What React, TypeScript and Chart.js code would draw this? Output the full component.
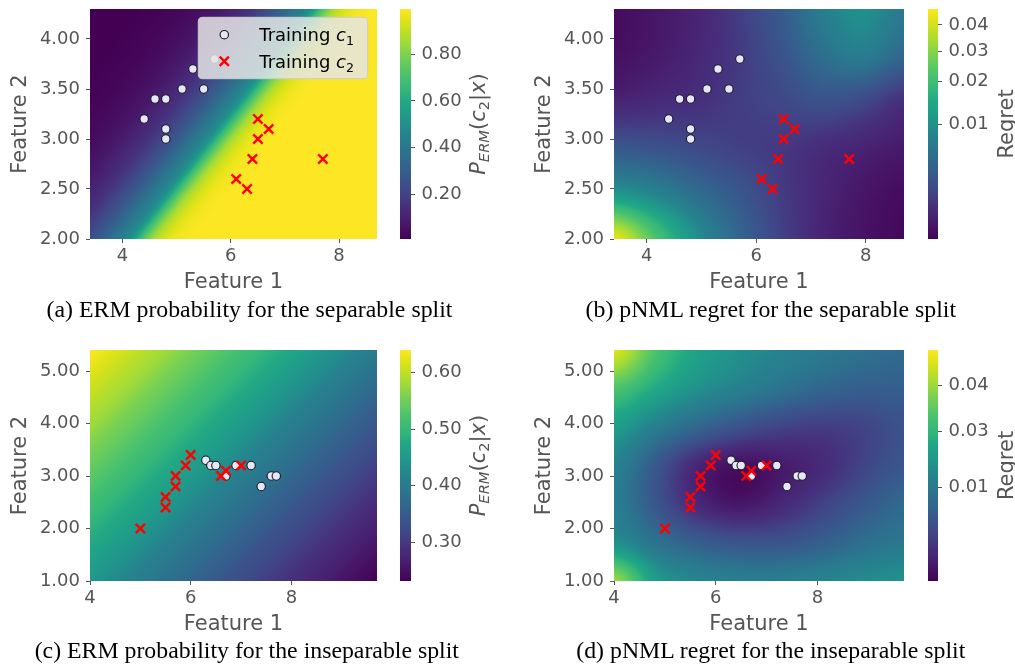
import React, { useEffect, useRef } from "react";
import { Chart, registerables } from "chart.js";

Chart.register(...registerables);

// ---------------- data ----------------
// separable split (training points)
const sepClass1X = [4.4, 4.6, 4.8, 4.8, 4.8, 5.1, 5.3, 5.5, 5.7];
const sepClass1Y = [3.2, 3.4, 3.4, 3.1, 3.0, 3.5, 3.7, 3.5, 3.8];
const sepClass2X = [6.5, 6.7, 6.5, 6.4, 7.7, 6.1, 6.3];
const sepClass2Y = [3.2, 3.1, 3.0, 2.8, 2.8, 2.6, 2.5];
// inseparable split (training points)
const insClass1X = [6.3, 6.4, 6.5, 6.7, 6.9, 7.2, 7.4, 7.6, 7.7];
const insClass1Y = [3.3, 3.2, 3.2, 3.0, 3.2, 3.2, 2.8, 3.0, 3.0];
const insClass2X = [5.0, 5.5, 5.5, 5.7, 5.7, 5.9, 6.0, 6.6, 6.7, 7.0];
const insClass2Y = [2.0, 2.4, 2.6, 2.8, 3.0, 3.2, 3.4, 3.0, 3.1, 3.2];

// axis ranges and ticks
const sepXRange = [3.4, 8.7];
const sepYRange = [2.0, 4.3];
const insXRange = [4.0, 9.7];
const insYRange = [1.0, 5.4];
const sepXTicks = [4, 6, 8];
const sepYTicks = [2.0, 2.5, 3.0, 3.5, 4.0];
const insXTicks = [4, 6, 8];
const insYTicks = [1, 2, 3, 4, 5];

// ERM decision function z = b + w1*x + w2*y, steepness below / above the boundary
const ermWeightsSep = [-1.25, 1.0, -1.45];
const ermSteepSep = [1.5, 4.2];
const ermWeightsIns = [0.291, -0.172, 0.18];
const ermSteepIns = [1.0, 1.0];
// ERM colour bars
const ermRangeSep = [0.008, 0.994];
const ermTicksSep = [0.2, 0.4, 0.6, 0.8];
const ermRangeIns = [0.2315, 0.64];
const ermTicksIns = [0.3, 0.4, 0.5, 0.6];

// pNML regret, colour level (0..1) read on a grid, rows from bottom to top
const regretGridXSep = [3.4, 4.16, 4.91, 5.67, 6.43, 7.19, 7.94, 8.7];
const regretGridYSep = [2.0, 2.46, 2.92, 3.38, 3.84, 4.3];
const regretLevelSep = [
  [0.97, 0.72, 0.5, 0.33, 0.2, 0.1, 0.05, 0.02],
  [0.52, 0.45, 0.35, 0.27, 0.18, 0.11, 0.06, 0.03],
  [0.27, 0.25, 0.22, 0.19, 0.17, 0.13, 0.1, 0.07],
  [0.1, 0.12, 0.14, 0.18, 0.21, 0.25, 0.22, 0.14],
  [0.04, 0.07, 0.11, 0.17, 0.25, 0.36, 0.42, 0.33],
  [0.03, 0.06, 0.1, 0.18, 0.28, 0.42, 0.5, 0.41],
];
const regretGridXIns = [4.0, 4.81, 5.63, 6.44, 7.26, 8.07, 8.89, 9.7];
const regretGridYIns = [1.0, 1.73, 2.47, 3.2, 3.93, 4.67, 5.4];
const regretLevelIns = [
  [0.85, 0.55, 0.46, 0.43, 0.43, 0.45, 0.48, 0.5],
  [0.5, 0.38, 0.3, 0.26, 0.26, 0.3, 0.36, 0.4],
  [0.43, 0.27, 0.12, 0.06, 0.11, 0.19, 0.27, 0.34],
  [0.45, 0.28, 0.11, 0.04, 0.07, 0.12, 0.2, 0.27],
  [0.55, 0.43, 0.33, 0.25, 0.2, 0.18, 0.2, 0.25],
  [0.72, 0.6, 0.5, 0.44, 0.38, 0.33, 0.3, 0.3],
  [0.95, 0.72, 0.57, 0.5, 0.45, 0.41, 0.37, 0.34],
];
// regret colour bars: tick labels and their colour level
const regretTickLabelsSep = ["0.01", "0.02", "0.03", "0.04"];
const regretTickLevelsSep = [0.497, 0.684, 0.815, 0.931];
const regretTickLabelsIns = ["0.01", "0.03", "0.04"];
const regretTickLevelsIns = [0.404, 0.646, 0.848];

const captions = [
  "(a) ERM probability for the separable split",
  "(b) pNML regret for the separable split",
  "(c) ERM probability for the inseparable split",
  "(d) pNML regret for the inseparable split",
];

// ---------------- styling helpers ----------------
const FONT = "'DejaVu Sans', sans-serif";
const GREY = "#555555";

const viridisHex = [
  "#440154", "#471365", "#482475", "#46327e", "#414487", "#3b528b", "#355f8d",
  "#2f6c8e", "#2a788e", "#26828e", "#21918c", "#1f9e89", "#22a884", "#35b779",
  "#44bf70", "#5ec962", "#7ad151", "#9fda3a", "#bddf26", "#dfe318", "#fde725",
];
const viridisRGB = viridisHex.map((h) => [
  parseInt(h.slice(1, 3), 16),
  parseInt(h.slice(3, 5), 16),
  parseInt(h.slice(5, 7), 16),
]);
function viridis(t: number) {
  const c = Math.max(0, Math.min(1, t)) * (viridisRGB.length - 1);
  const i = Math.min(viridisRGB.length - 2, Math.floor(c));
  const f = c - i;
  const a = viridisRGB[i];
  const b = viridisRGB[i + 1];
  return [a[0] + (b[0] - a[0]) * f, a[1] + (b[1] - a[1]) * f, a[2] + (b[2] - a[2]) * f];
}

function ermField(weights: number[], steep: number[], range: number[]) {
  const [b, w1, w2] = weights;
  return (x: number, y: number) => {
    const z = b + w1 * x + w2 * y;
    const s = z * (z < 0 ? steep[0] : steep[1]);
    const p = 1 / (1 + Math.exp(-s));
    return (p - range[0]) / (range[1] - range[0]);
  };
}

function gridField(gx: number[], gy: number[], levels: number[][]) {
  const nx = gx.length;
  const ny = gy.length;
  const cr = (p0: number, p1: number, p2: number, p3: number, s: number) =>
    0.5 * (2 * p1 + (p2 - p0) * s + (2 * p0 - 5 * p1 + 4 * p2 - p3) * s * s + (3 * p1 - p0 - 3 * p2 + p3) * s * s * s);
  const locate = (arr: number[], v: number) => {
    let i = 0;
    while (i < arr.length - 2 && v > arr[i + 1]) i++;
    const s = (v - arr[i]) / (arr[i + 1] - arr[i]);
    return [i, Math.max(0, Math.min(1, s))];
  };
  const at = (r: number, c: number) =>
    levels[Math.max(0, Math.min(ny - 1, r))][Math.max(0, Math.min(nx - 1, c))];
  return (x: number, y: number) => {
    const [i, sx] = locate(gx, x);
    const [j, sy] = locate(gy, y);
    const rows = [-1, 0, 1, 2].map((d) => cr(at(j + d, i - 1), at(j + d, i), at(j + d, i + 1), at(j + d, i + 2), sx));
    return cr(rows[0], rows[1], rows[2], rows[3], sy);
  };
}

type Seg = { t: string; it?: boolean; sub?: boolean };
function drawRich(ctx: any, segs: Seg[], x: number, y: number, fs: number, color: string, align: string) {
  const fontFor = (sg: Seg) => `${sg.it ? "italic " : ""}${sg.sub ? fs * 0.7 : fs}px ${FONT}`;
  let total = 0;
  const widths = segs.map((sg) => {
    ctx.font = fontFor(sg);
    const w = ctx.measureText(sg.t).width;
    total += w;
    return w;
  });
  let cx = align === "center" ? x - total / 2 : x;
  ctx.fillStyle = color;
  ctx.textBaseline = "alphabetic";
  ctx.textAlign = "left";
  const base = y + 0.365 * fs;
  segs.forEach((sg, i) => {
    ctx.font = fontFor(sg);
    ctx.fillText(sg.t, cx, base + (sg.sub ? 0.22 * fs : 0));
    cx += widths[i];
  });
}

const heatmapPlugin = (field: (x: number, y: number) => number) => ({
  id: "heatmap",
  beforeDatasetsDraw(chart: any) {
    const { ctx, chartArea: a, scales } = chart;
    const w = Math.round(a.right - a.left);
    const h = Math.round(a.bottom - a.top);
    const off = document.createElement("canvas");
    off.width = w;
    off.height = h;
    const octx = off.getContext("2d") as CanvasRenderingContext2D;
    const img = octx.createImageData(w, h);
    const xs = Array.from({ length: w }, (_, i) => scales.x.getValueForPixel(a.left + i + 0.5));
    const ys = Array.from({ length: h }, (_, j) => scales.y.getValueForPixel(a.top + j + 0.5));
    for (let j = 0; j < h; j++) {
      for (let i = 0; i < w; i++) {
        const c = viridis(field(xs[i], ys[j]));
        const k = (j * w + i) * 4;
        img.data[k] = c[0];
        img.data[k + 1] = c[1];
        img.data[k + 2] = c[2];
        img.data[k + 3] = 255;
      }
    }
    octx.putImageData(img, 0, 0);
    ctx.drawImage(off, a.left, a.top, a.right - a.left, a.bottom - a.top);
  },
});

const legendPlugin = {
  id: "legendBox",
  afterDatasetsDraw(chart: any) {
    const { ctx, chartArea: a } = chart;
    const bw = 169.4;
    const bh = 61.4;
    const x0 = a.right - 9.3 - bw;
    const y0 = a.top + 8.3;
    ctx.save();
    ctx.beginPath();
    const r = 4;
    ctx.moveTo(x0 + r, y0);
    ctx.arcTo(x0 + bw, y0, x0 + bw, y0 + bh, r);
    ctx.arcTo(x0 + bw, y0 + bh, x0, y0 + bh, r);
    ctx.arcTo(x0, y0 + bh, x0, y0, r);
    ctx.arcTo(x0, y0, x0 + bw, y0, r);
    ctx.closePath();
    ctx.fillStyle = "rgba(229,229,229,0.85)";
    ctx.fill();
    ctx.strokeStyle = "#cccccc";
    ctx.lineWidth = 1;
    ctx.stroke();
    const rows = [y0 + 17.4, y0 + 44];
    const mx = x0 + 26;
    ctx.beginPath();
    ctx.arc(mx, rows[0], 4.2, 0, Math.PI * 2);
    ctx.fillStyle = "#e6e6fa";
    ctx.fill();
    ctx.strokeStyle = "#1a1a1a";
    ctx.lineWidth = 1.1;
    ctx.stroke();
    const d = 4.6;
    ctx.beginPath();
    ctx.moveTo(mx - d, rows[1] - d);
    ctx.lineTo(mx + d, rows[1] + d);
    ctx.moveTo(mx - d, rows[1] + d);
    ctx.lineTo(mx + d, rows[1] - d);
    ctx.strokeStyle = "#ff0000";
    ctx.lineWidth = 2.4;
    ctx.stroke();
    drawRich(ctx, [{ t: "Training " }, { t: "c", it: true }, { t: "1", sub: true }], x0 + 61, rows[0], 18, "#000000", "left");
    drawRich(ctx, [{ t: "Training " }, { t: "c", it: true }, { t: "2", sub: true }], x0 + 61, rows[1], 18, "#000000", "left");
    ctx.restore();
  },
};

function toPoints(xs: number[], ys: number[]) {
  return xs.map((x, i) => ({ x, y: ys[i] }));
}

const zeroPad = (s: any) => {
  s.paddingTop = 0;
  s.paddingBottom = 0;
  s.paddingLeft = 0;
  s.paddingRight = 0;
};

function HeatPanel(props: any) {
  const { box, xRange, yRange, xTicks, yTicks, c1, c2, field, legend } = props;
  const ref = useRef<HTMLCanvasElement>(null);
  const W = box.r - box.l + 95;
  const H = box.b - box.t + 70;
  useEffect(() => {
    const tickFont = { family: FONT, size: 18 };
    const titleFont = { family: FONT, size: 21 };
    const chart = new Chart(ref.current as HTMLCanvasElement, {
      type: "scatter",
      data: {
        datasets: [
          {
            label: "Training c2",
            data: c2,
            pointStyle: "crossRot",
            pointRadius: 6.6,
            pointHoverRadius: 6.6,
            borderColor: "#ff0000",
            backgroundColor: "#ff0000",
            borderWidth: 2.4,
            order: 0,
          },
          {
            label: "Training c1",
            data: c1,
            pointStyle: "circle",
            pointRadius: 4.2,
            pointHoverRadius: 4.2,
            backgroundColor: "#e6e6fa",
            borderColor: "#1a1a1a",
            borderWidth: 1.1,
            order: 1,
          },
        ],
      },
      options: {
        responsive: false,
        animation: false,
        events: [],
        layout: { padding: { top: 9, right: 5, left: 0, bottom: 0 } },
        plugins: { legend: { display: false }, tooltip: { enabled: false } },
        scales: {
          x: {
            type: "linear",
            min: xRange[0],
            max: xRange[1],
            afterBuildTicks: (s: any) => {
              s.ticks = xTicks.map((v: number) => ({ value: v }));
            },
            afterFit: (s: any) => {
              s.height = 61;
              zeroPad(s);
            },
            ticks: {
              font: tickFont,
              color: GREY,
              padding: 3,
              maxRotation: 0,
              autoSkip: false,
              callback: (v: any) => String(v),
            },
            grid: { drawOnChartArea: false, drawTicks: true, tickLength: 4, tickColor: GREY, color: GREY },
            border: { display: false },
            title: { display: true, text: "Feature 1", font: titleFont, color: GREY, padding: { top: 0, bottom: 4.4 } },
          },
          y: {
            type: "linear",
            min: yRange[0],
            max: yRange[1],
            afterBuildTicks: (s: any) => {
              s.ticks = yTicks.map((v: number) => ({ value: v }));
            },
            afterFit: (s: any) => {
              s.width = 90;
              zeroPad(s);
            },
            ticks: {
              font: tickFont,
              color: GREY,
              padding: 6,
              autoSkip: false,
              callback: (v: any) => Number(v).toFixed(2),
            },
            grid: { drawOnChartArea: false, drawTicks: true, tickLength: 4, tickColor: GREY, color: GREY },
            border: { display: false },
            title: { display: true, text: "Feature 2", font: titleFont, color: GREY, padding: { top: 8.4, bottom: 0 } },
          },
        },
      } as any,
      plugins: [heatmapPlugin(field), ...(legend ? [legendPlugin] : [])],
    });
    return () => chart.destroy();
  }, []);
  return (
    <canvas
      ref={ref}
      width={W}
      height={H}
      style={{ position: "absolute", left: box.l - 90, top: box.t - 9, width: W, height: H }}
    />
  );
}

function ColorBar(props: any) {
  const { box, range, tickValues, tickLabels, title } = props;
  const ref = useRef<HTMLCanvasElement>(null);
  const bw = box.r - box.l;
  const W = 5 + bw + 100;
  const H = box.b - box.t + 70;
  useEffect(() => {
    const plugin = {
      id: "cbar",
      beforeDatasetsDraw(chart: any) {
        const { ctx, chartArea: a, scales } = chart;
        for (let y = Math.floor(a.top); y < a.bottom; y++) {
          const v = scales.y.getValueForPixel(y + 0.5);
          const c = viridis((v - range[0]) / (range[1] - range[0]));
          ctx.fillStyle = `rgb(${c[0]},${c[1]},${c[2]})`;
          ctx.fillRect(a.left, y, a.right - a.left, 1);
        }
      },
      afterDraw(chart: any) {
        const { ctx, chartArea: a } = chart;
        ctx.save();
        ctx.translate(a.left + 77, (a.top + a.bottom) / 2);
        ctx.rotate(-Math.PI / 2);
        drawRich(ctx, title, 0, 0, 21, GREY, "center");
        ctx.restore();
      },
    };
    const chart = new Chart(ref.current as HTMLCanvasElement, {
      type: "scatter",
      data: { datasets: [] },
      options: {
        responsive: false,
        animation: false,
        events: [],
        layout: { padding: { top: 9, right: 0, left: 5, bottom: 61 } },
        plugins: { legend: { display: false }, tooltip: { enabled: false } },
        scales: {
          x: { display: false, min: 0, max: 1 },
          y: {
            type: "linear",
            position: "right",
            min: range[0],
            max: range[1],
            afterBuildTicks: (s: any) => {
              s.ticks = tickValues.map((v: number) => ({ value: v }));
            },
            afterFit: (s: any) => {
              s.width = 100;
              zeroPad(s);
            },
            ticks: {
              font: { family: FONT, size: 18 },
              color: GREY,
              padding: 6.5,
              autoSkip: false,
              callback: (_v: any, i: number) => tickLabels[i],
            },
            grid: { drawOnChartArea: false, drawTicks: true, tickLength: 4, tickColor: GREY, color: GREY },
            border: { display: false },
          },
        },
      } as any,
      plugins: [plugin],
    });
    return () => chart.destroy();
  }, []);
  return (
    <canvas
      ref={ref}
      width={W}
      height={H}
      style={{ position: "absolute", left: box.l - 5, top: box.t - 9, width: W, height: H }}
    />
  );
}

function Caption({ text, cx, baseline }: any) {
  const fs = 23.8;
  return (
    <div
      style={{
        position: "absolute",
        left: cx,
        top: baseline - 0.8375 * fs,
        transform: "translateX(-50%)",
        whiteSpace: "nowrap",
        fontFamily: "'Liberation Serif', 'Times New Roman', serif",
        fontSize: fs,
        lineHeight: 1,
        color: "#000",
      }}
    >
      {text}
    </div>
  );
}

const ermTitle: Seg[] = [
  { t: "P", it: true },
  { t: "ERM", it: true, sub: true },
  { t: "(" },
  { t: "c", it: true },
  { t: "2", sub: true },
  { t: "|" },
  { t: "x", it: true },
  { t: ")" },
];
const regretTitle: Seg[] = [{ t: "Regret" }];

export default function App() {
  const sepC1 = toPoints(sepClass1X, sepClass1Y);
  const sepC2 = toPoints(sepClass2X, sepClass2Y);
  const insC1 = toPoints(insClass1X, insClass1Y);
  const insC2 = toPoints(insClass2X, insClass2Y);
  const fieldA = ermField(ermWeightsSep, ermSteepSep, ermRangeSep);
  const fieldB = gridField(regretGridXSep, regretGridYSep, regretLevelSep);
  const fieldC = ermField(ermWeightsIns, ermSteepIns, ermRangeIns);
  const fieldD = gridField(regretGridXIns, regretGridYIns, regretLevelIns);
  const boxA = { l: 90, r: 381, t: 9, b: 239 };
  const boxB = { l: 614, r: 908, t: 9, b: 239 };
  const boxC = { l: 90, r: 381, t: 350, b: 581 };
  const boxD = { l: 614, r: 908, t: 350, b: 581 };
  return (
    <div
      style={{
        position: "absolute",
        left: 0,
        top: 0,
        width: 1015,
        height: 664,
        overflow: "hidden",
        background: "#ffffff",
      }}
    >
      <HeatPanel box={boxA} xRange={sepXRange} yRange={sepYRange} xTicks={sepXTicks} yTicks={sepYTicks} c1={sepC1} c2={sepC2} field={fieldA} legend />
      <ColorBar box={{ l: 400, r: 411, t: 9, b: 239 }} range={ermRangeSep} tickValues={ermTicksSep} tickLabels={ermTicksSep.map((v) => v.toFixed(2))} title={ermTitle} />
      <HeatPanel box={boxB} xRange={sepXRange} yRange={sepYRange} xTicks={sepXTicks} yTicks={sepYTicks} c1={sepC1} c2={sepC2} field={fieldB} />
      <ColorBar box={{ l: 928, r: 938, t: 9, b: 239 }} range={[0, 1]} tickValues={regretTickLevelsSep} tickLabels={regretTickLabelsSep} title={regretTitle} />
      <HeatPanel box={boxC} xRange={insXRange} yRange={insYRange} xTicks={insXTicks} yTicks={insYTicks} c1={insC1} c2={insC2} field={fieldC} />
      <ColorBar box={{ l: 400, r: 411, t: 350, b: 581 }} range={ermRangeIns} tickValues={ermTicksIns} tickLabels={ermTicksIns.map((v) => v.toFixed(2))} title={ermTitle} />
      <HeatPanel box={boxD} xRange={insXRange} yRange={insYRange} xTicks={insXTicks} yTicks={insYTicks} c1={insC1} c2={insC2} field={fieldD} />
      <ColorBar box={{ l: 928, r: 938, t: 350, b: 581 }} range={[0, 1]} tickValues={regretTickLevelsIns} tickLabels={regretTickLabelsIns} title={regretTitle} />
      <Caption text={captions[0]} cx={249.5} baseline={318.3} />
      <Caption text={captions[1]} cx={770.8} baseline={318.3} />
      <Caption text={captions[2]} cx={246.8} baseline={658.5} />
      <Caption text={captions[3]} cx={770.8} baseline={658.5} />
    </div>
  );
}
